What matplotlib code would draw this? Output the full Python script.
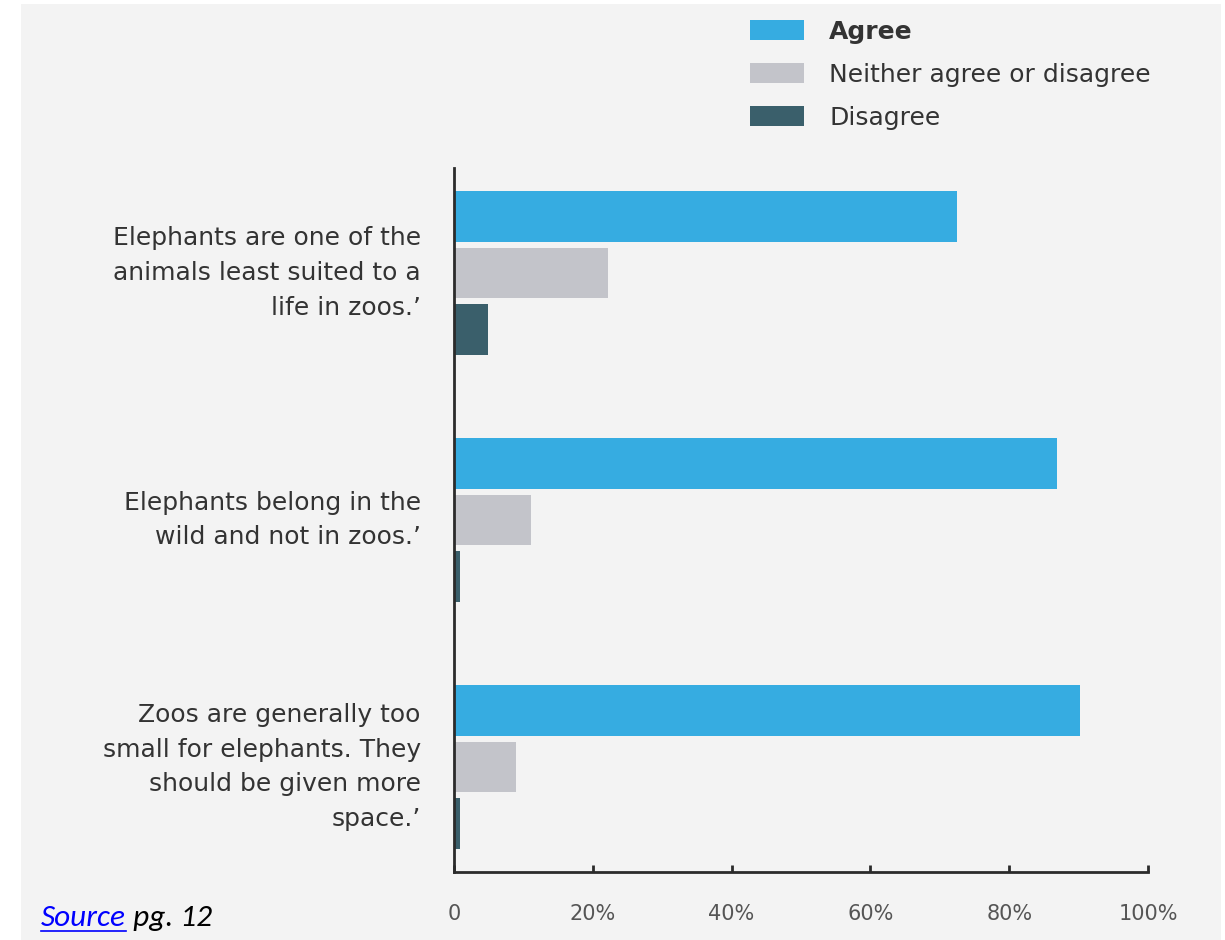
import matplotlib
matplotlib.use("Agg")
import matplotlib.pyplot as plt
import numpy as np
from matplotlib.patches import Rectangle
from matplotlib.lines import Line2D

categories = [
    "Elephants are one of the\nanimals least suited to a\nlife in zoos.\u2019",
    "Elephants belong in the\nwild and not in zoos.\u2019",
    "Zoos are generally too\nsmall for elephants. They\nshould be given more\nspace.\u2019",
]
series_names = ["Agree", "Neither agree or disagree", "Disagree"]
agree = [72.5, 86.9, 90.2]
neither = [22.2, 11.1, 8.9]
disagree = [4.9, 0.9, 0.9]
tick_values = [0, 20, 40, 60, 80, 100]
tick_labels = ["0", "20%", "40%", "60%", "80%", "100%"]

colors = ["#36ace1", "#c3c4ca", "#3a5f6b"]
bg = "#f3f3f3"
text_col = "#333333"

W, H = 1225, 940
fig = plt.figure(figsize=(W / 100, H / 100), dpi=100, facecolor="white")
fig.patches.append(Rectangle((21 / W, 0), (1221 - 21) / W, 1 - 4 / H,
                             transform=fig.transFigure, facecolor=bg,
                             edgecolor="none", zorder=-10))

ax = fig.add_axes([454 / W, 1 - 872 / H, 694 / W, (872 - 168) / H])
ax.set_facecolor(bg)
ax.patch.set_alpha(0)

y = np.arange(len(categories))
pitch = 0.229
h = 0.206
all_series = [agree, neither, disagree]
for i, (vals, name, c) in enumerate(zip(all_series, series_names, colors)):
    ax.barh(y + (i - 1) * pitch, vals, height=h, color=c, label=name, zorder=2)

ax.set_xlim(0, 100)
ax.set_ylim(2.425, -0.425)

for s in ["top", "right"]:
    ax.spines[s].set_visible(False)
for s in ["left", "bottom"]:
    ax.spines[s].set_color("#2b2b2b")
    ax.spines[s].set_linewidth(2)

ax.set_xticks(tick_values)
ax.set_xticklabels(tick_labels, fontsize=15, color="#555555")
ax.tick_params(axis="x", direction="in", length=5, width=2, color="#2b2b2b", pad=23)

ax.set_yticks(y)
ax.set_yticklabels(categories, fontsize=18, color=text_col, linespacing=1.57,
                   ha="right", va="center")
ax.tick_params(axis="y", length=0, pad=24)

leg = fig.legend(loc="upper left", bbox_to_anchor=(750 / W, 1 - 20 / H),
                 frameon=False, fontsize=18, handlelength=2.17, handleheight=0.87,
                 handletextpad=1.0, labelspacing=0.75, borderpad=0,
                 borderaxespad=0)
for t in leg.get_texts():
    t.set_color(text_col)
leg.get_texts()[0].set_fontweight("bold")

fam = ["Carlito", "Lato", "DejaVu Sans"]
t1 = fig.text(41 / W, 1 - 926 / H, "Source", color="#0000ff", fontsize=22.5,
              style="italic", family=fam, va="baseline", ha="left")
fig.canvas.draw()
bb = t1.get_window_extent()
t2 = fig.text(bb.x1 / W, 1 - 926 / H, " pg. 12", color="black", fontsize=22.5,
              style="italic", family=fam, va="baseline", ha="left")
fig.lines.append(Line2D([bb.x0 / W, bb.x1 / W], [1 - 931 / H, 1 - 931 / H],
                        transform=fig.transFigure, color="#0000ff", linewidth=1.2))

fig.savefig("out.png", dpi=100, facecolor="white")
